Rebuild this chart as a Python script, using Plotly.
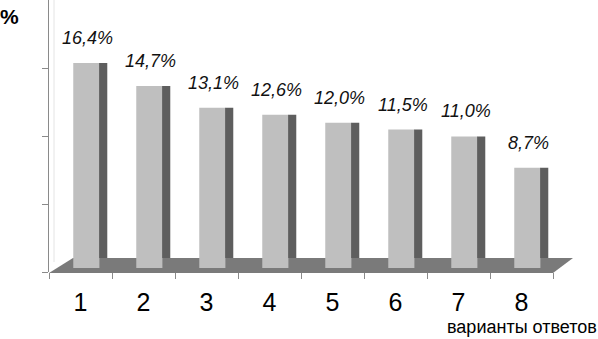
import plotly.graph_objects as go

categories = ["1", "2", "3", "4", "5", "6", "7", "8"]
values = [16.4, 14.7, 13.1, 12.6, 12.0, 11.5, 11.0, 8.7]
y_ticks = [0, 5, 10, 15]
y_title = "%"
x_title = "варианты ответов"

W, H = 598, 339
ML, MR, MT, MB = 49, 45, 0, 67
PW, PH = W - ML - MR, H - MT - MB
PX_PER = PH / 20.0          # pixels per percent on the visible axis
DEPTH_FRONT = 14            # 3D depth shift of front faces (px)


def paper(px, py):
    return (px - ML) / PW, (PH + MT - py) / PH


def path(points):
    pts = [paper(x, y) for x, y in points]
    return "M " + " L ".join(f"{x:.4f},{y:.4f}" for x, y in pts) + " Z"


labels = [f"{v:.1f}".replace(".", ",") + "%" for v in values]

top_v = (PH + DEPTH_FRONT) / PX_PER          # value at top of plot for shifted axes
front_bottom_px = 268
side_bottom_px = 258
r2 = [(PH + DEPTH_FRONT - front_bottom_px) / PX_PER, top_v]
r3 = [(PH + DEPTH_FRONT - side_bottom_px) / PX_PER, top_v]

fig = go.Figure()
# invisible trace to hold the main axes
fig.add_trace(go.Scatter(x=categories, y=[None] * len(categories), yaxis="y",
                         mode="markers", showlegend=False, hoverinfo="skip"))
fig.add_trace(go.Bar(x=categories, y=values, yaxis="y3", width=0.13, offset=0.295,
                     marker=dict(color="#5e5e5e", line=dict(width=0)), showlegend=False))
fig.add_trace(go.Bar(x=categories, y=values, yaxis="y2", width=0.415, offset=-0.115,
                     marker=dict(color="#bfbfbf", line=dict(width=0)), showlegend=False))

shapes = [
    dict(type="path", xref="paper", yref="paper", layer="between",
         path=path([(49, 273), (73, 258), (573, 258), (553, 273)]),
         fillcolor="#7a7a7a", line=dict(width=0)),
    dict(type="line", xref="paper", yref="paper", layer="between",
         x0=paper(54, 0)[0], x1=paper(54, 0)[0], y0=paper(54, 0)[1], y1=paper(54, 262)[1],
         line=dict(color="#e4e4e4", width=1)),
]

annotations = [
    dict(x=i, y=v, xref="x", yref="y2", text=f"<i>{t}</i>", showarrow=False,
         yanchor="bottom", xanchor="center", xshift=7, yshift=13,
         font=dict(family="Liberation Sans, Arial", size=18, color="#111111"))
    for i, (v, t) in enumerate(zip(values, labels))
]
px0, py0 = paper(0, 16)
annotations.append(dict(x=px0, y=py0, xref="paper", yref="paper", text=f"<b>{y_title}</b>",
                        showarrow=False, xanchor="left", yanchor="middle", xshift=-2,
                        font=dict(family="Liberation Sans, Arial", size=21, color="black")))
px1, py1 = paper(598, 316)
annotations.append(dict(x=px1, y=py1, xref="paper", yref="paper", text=x_title,
                        showarrow=False, xanchor="right", yanchor="top", borderpad=0,
                        font=dict(family="Liberation Sans, Arial", size=18, color="black")))

fig.update_layout(
    width=W, height=H,
    margin=dict(l=ML, r=MR, t=MT, b=MB, pad=0),
    paper_bgcolor="white", plot_bgcolor="rgba(0,0,0,0)",
    barmode="overlay",
    showlegend=False,
    shapes=shapes,
    annotations=annotations,
    xaxis=dict(type="category", range=[-0.5, len(categories) - 0.5], anchor="y",
               tickson="boundaries", ticks="outside", ticklen=6, tickcolor="#8a8a8a",
               showline=False, showgrid=False, zeroline=False, ticklabelstandoff=13,
               tickfont=dict(family="Liberation Sans, Arial", size=25, color="black")),
    yaxis=dict(domain=[0, 1], range=[0, 20], tickvals=y_ticks, showticklabels=False,
               ticks="outside", ticklen=6, tickcolor="#8a8a8a", showline=True,
               linecolor="#8a8a8a", linewidth=1, showgrid=False, zeroline=False),
    yaxis2=dict(domain=[(PH + MT - front_bottom_px) / PH, 1],
                range=r2, anchor="x", visible=False),
    yaxis3=dict(domain=[(PH + MT - side_bottom_px) / PH, 1],
                range=r3, anchor="x", visible=False),
)

fig.write_html("out.html", config={"displayModeBar": False},
               post_script="document.body.style.margin='0';document.body.style.overflow='hidden';")
